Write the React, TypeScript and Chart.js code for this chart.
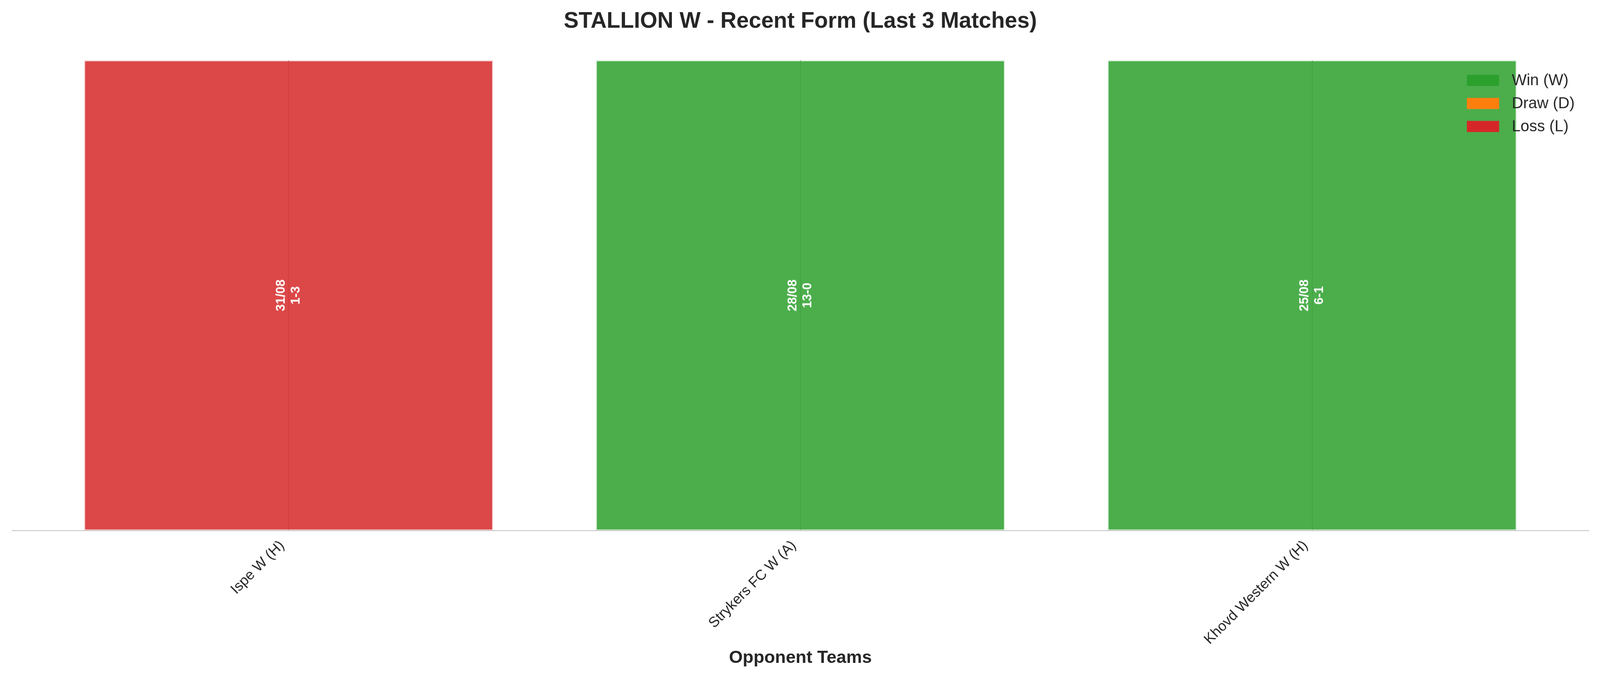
import { useEffect, useRef } from "react";
import { Chart, registerables } from "chart.js";

Chart.register(...registerables);

// Last three matches, newest first
const opponents = ["Ispe W (H)", "Strykers FC W (A)", "Khovd Western W (H)"];
const matchDates = ["31/08", "28/08", "25/08"];
const scores = ["1-3", "13-0", "6-1"];
const results = ["L", "W", "W"];
const formHeights = [1, 1, 1];

const resultKeys = ["W", "D", "L"];
const resultLabels = ["Win (W)", "Draw (D)", "Loss (L)"];
const resultColors = ["#2ca02c", "#ff7f0e", "#d62728"];

const REF_WIDTH = 4170;
const REF_HEIGHT = 1770;
const TEXT = "#262626";
const GRID = "#cccccc";
const FONT = "'Liberation Sans', Arial, Helvetica, sans-serif";
const X_MARGIN = 0.54;

function withAlpha(hex: string, a: number) {
  const n = parseInt(hex.slice(1), 16);
  return `rgba(${(n >> 16) & 255}, ${(n >> 8) & 255}, ${n & 255}, ${a})`;
}

export default function App() {
  const boxRef = useRef<HTMLDivElement>(null);
  const canvasRef = useRef<HTMLCanvasElement>(null);

  useEffect(() => {
    document.body.style.margin = "0";
    document.body.style.overflow = "hidden";
    const canvas = canvasRef.current;
    const box = boxRef.current;
    if (!canvas || !box) return;
    Chart.defaults.font.family = FONT;
    // sizes below were measured on the 4170px wide reference
    const s = box.clientWidth / REF_WIDTH;

    /** Date and score written vertically in the middle of each bar. */
    const barText = {
      id: "barText",
      afterDatasetsDraw(chart: any) {
        const { ctx } = chart;
        const xs = chart.scales.x;
        const ys = chart.scales.y;
        ctx.save();
        ctx.font = `bold ${33 * s}px ${FONT}`;
        ctx.fillStyle = "#ffffff";
        ctx.textAlign = "center";
        ctx.textBaseline = "middle";
        opponents.forEach((_, i) => {
          const lines = [matchDates[i], scores[i]];
          ctx.save();
          ctx.translate(xs.getPixelForValue(i), ys.getPixelForValue(formHeights[i] / 2));
          ctx.rotate(-Math.PI / 2);
          lines.forEach((t, j) => ctx.fillText(t, 0, (j - (lines.length - 1) / 2) * 39 * s));
          ctx.restore();
        });
        ctx.restore();
      },
    };

    /** Frameless legend in the upper right of the plot, solid swatches. */
    const formLegend = {
      id: "formLegend",
      afterDraw(chart: any) {
        const { ctx, chartArea } = chart;
        const labels: string[] = chart.data.datasets.map((d: any) => d.label);
        ctx.save();
        ctx.font = `${41 * s}px ${FONT}`;
        const textW = Math.max(...labels.map((l) => ctx.measureText(l).width));
        const textX = chartArea.right - 36 * s - textW;
        ctx.textAlign = "left";
        ctx.textBaseline = "middle";
        labels.forEach((label, k) => {
          const y = chartArea.top + (53 + k * 60) * s;
          ctx.fillStyle = resultColors[k];
          ctx.fillRect(textX - 117 * s, y - 14.5 * s, 84 * s, 29 * s);
          ctx.fillStyle = TEXT;
          ctx.fillText(label, textX, y + s);
        });
        ctx.restore();
      },
    };

    const datasets = resultKeys.map((key, k) => ({
      label: resultLabels[k],
      data: opponents
        .map((_, i) => ({ x: i, y: formHeights[i] }))
        .filter((_, i) => results[i] === key),
      backgroundColor: withAlpha(resultColors[k], 0.85),
      borderColor: withAlpha(resultColors[k], 0.15),
      borderWidth: 3 * s,
      borderSkipped: false,
      grouped: false,
      barPercentage: 0.8,
      categoryPercentage: 1,
    }));

    const chart = new Chart(canvas, {
      type: "bar",
      data: { datasets },
      options: {
        animation: false,
        responsive: true,
        maintainAspectRatio: false,
        layout: { padding: { left: 32 * s, right: 30 * s, top: 0, bottom: 0 } },
        plugins: {
          legend: { display: false },
          tooltip: { enabled: false },
          title: {
            display: true,
            text: "STALLION W - Recent Form (Last 3 Matches)",
            color: TEXT,
            font: { size: 58 * s, weight: "bold" },
            padding: { top: 21 * s, bottom: 66 * s },
          },
        },
        scales: {
          x: {
            type: "linear",
            min: -X_MARGIN,
            max: opponents.length - 1 + X_MARGIN,
            bounds: "data",
            offset: false,
            grid: { color: GRID, lineWidth: 3 * s, drawTicks: false, offset: false },
            border: { color: GRID, width: 2.5 * s },
            afterBuildTicks: (scale: any) => {
              scale.ticks = opponents.map((_, i) => ({ value: i }));
            },
            ticks: {
              autoSkip: false,
              minRotation: 45,
              maxRotation: 45,
              padding: 17 * s,
              labelOffset: -17 * s,
              color: TEXT,
              font: { size: 37.5 * s },
              callback: (v: any) => opponents[Math.round(v)] ?? "",
            },
            title: {
              display: true,
              text: "Opponent Teams",
              color: TEXT,
              font: { size: 46 * s, weight: "bold" },
              padding: { top: 0, bottom: 27 * s },
            },
            afterFit: (scale: any) => {
              scale.height = 387 * s;
            },
          },
          y: {
            display: false,
            min: 0,
            max: 1,
          },
        },
      } as any,
      plugins: [barText, formLegend],
    });
    return () => chart.destroy();
  }, []);

  return (
    <div
      ref={boxRef}
      style={{
        position: "fixed",
        left: 0,
        top: 0,
        width: "100vw",
        height: `calc(100vw * ${REF_HEIGHT} / ${REF_WIDTH})`,
        background: "#ffffff",
      }}
    >
      <canvas ref={canvasRef} />
    </div>
  );
}
